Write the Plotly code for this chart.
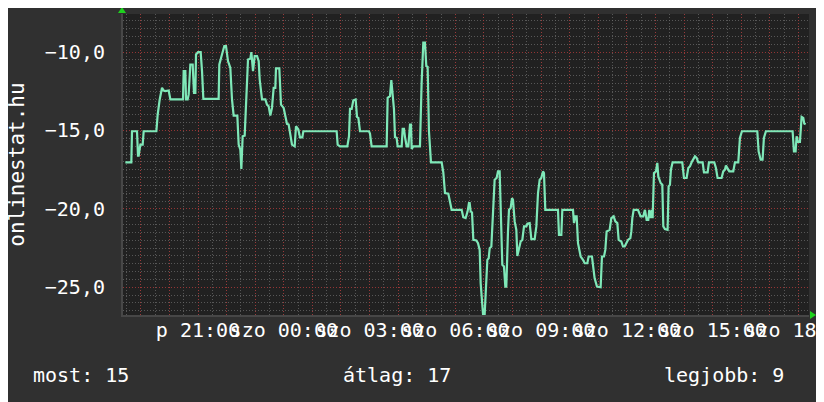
import pandas as pd
import plotly.graph_objects as go

# kezdőpont: péntek 18:00, az idők ettől számított percek
kezdet = pd.Timestamp('2024-01-05 18:00')

# a görbe pontjai (perc, helyezés) szakaszonként
ido_1 = [27.5, 40.1, 41.5, 52.0, 54.1, 55.5, 59.0, 63.9, 66.0, 92.6,
         95.4, 99.6, 104.5, 108.0, 111.5, 118.5, 122.0, 148.5, 149.9, 153.4,
         154.8, 158.3, 160.4, 163.9, 168.8, 171.6, 174.4, 175.8, 180.0, 185.6,
         188.4, 191.2, 223.3, 224.7, 230.3, 235.2, 238.7, 242.9, 247.8, 251.3,
         254.8, 262.5, 265.3, 268.8, 270.9, 273.7, 277.9, 280.7, 284.9, 289.8,
         291.9, 295.4, 298.9, 303.8, 307.3, 309.4, 314.3, 321.3, 324.7, 328.2,
         331.7, 335.2, 338.7, 342.2, 343.6, 350.6, 354.1, 359.7, 363.2, 366.7,
         370.2, 373.7, 377.2, 382.8]
ertek_1 = [-17.03, -17.03, -15.05, -15.05, -16.6, -16.6, -15.9, -15.9, -15.05, -15.05,
           -13.98, -13.02, -12.28, -12.45, -12.49, -12.45, -13.02, -13.02, -11.21, -11.21,
           -13.02, -13.02, -12.70, -10.79, -10.79, -12.60, -12.60, -10.15, -10.0, -10.0,
           -11.21, -12.98, -12.98, -10.79, -10.15, -9.61, -9.61, -10.57, -11.0, -13.02,
           -14.05, -14.05, -15.9, -16.22, -17.46, -15.37, -15.33, -13.35, -10.47, -10.42,
           -10.0, -11.21, -10.25, -10.25, -10.57, -11.75, -13.02, -13.02, -13.35, -13.45,
           -14.05, -13.56, -12.28, -12.28, -11.04, -11.04, -13.35, -13.56, -14.05, -14.58,
           -14.62, -15.33, -15.9, -16.01]

ido_2 = [385.6, 390.5, 394.0, 398.9, 401.0, 470.9, 473.0, 477.9, 493.3, 496.8,
         498.9, 502.4, 505.9, 510.8, 513.6, 516.4, 519.9, 538.7, 540.8, 544.3,
         575.8, 577.9, 582.8, 585.6, 588.4, 591.2, 593.3, 596.8, 598.9, 607.3,
         609.4, 612.2, 614.3, 617.8, 621.3, 624.8, 626.9, 628.3, 631.8, 645.7,
         649.2, 652.7, 656.2, 659.0, 661.8, 664.6, 668.8, 691.2, 694.7, 698.2,
         705.2, 708.7, 712.2, 733.2, 736.6, 741.5, 745.7, 748.5]
ertek_2 = [-14.73, -14.94, -15.44, -15.44, -15.05, -15.05, -15.9, -16.01, -16.01, -15.37,
           -13.62, -13.62, -13.07, -13.02, -14.13, -14.20, -15.05, -15.05, -15.2, -16.01,
           -16.01, -12.92, -12.81, -11.79, -13.02, -13.66, -15.42, -15.48, -16.01, -16.01,
           -14.90, -14.90, -15.42, -16.01, -16.01, -14.62, -14.62, -16.18, -16.01, -16.01,
           -11.96, -9.40, -9.40, -10.89, -10.94, -15.05, -17.03, -17.03, -17.67, -18.99,
           -19.03, -19.63, -20.06, -20.06, -20.53, -20.59, -20.16, -19.63]

ido_3 = [750.0, 752.1, 754.9, 757.7, 764.0, 767.5, 771.0, 773.1, 775.9, 778.0,
         781.5, 785.0, 787.1, 789.9, 792.0, 795.5, 799.0, 802.4, 806.6, 809.4,
         812.9, 814.3, 816.4, 818.5, 822.0, 824.8, 826.9, 829.0, 830.4, 832.5,
         836.0, 838.8, 840.9, 844.4, 847.9, 850.0, 852.8, 857.0, 860.5, 864.0,
         868.9, 871.0, 875.9, 879.4, 886.4, 889.9, 893.4, 896.9, 900.3, 903.8,
         905.9, 908.7, 935.3, 937.4, 942.3, 944.4, 966.8, 968.9, 971.7, 974.5,
         977.3, 982.9, 987.8, 991.3, 996.9, 999.6, 1006.6, 1008.7, 1012.2, 1017.1,
         1024.8, 1027.6, 1031.8, 1034.6, 1037.4, 1043.7, 1047.2, 1052.1, 1055.6, 1059.8,
         1062.6, 1068.2, 1071.7, 1075.2, 1082.2, 1087.1, 1089.2, 1091.3, 1094.1, 1103.1,
         1108.7]
ertek_3 = [-19.63, -20.16, -20.23, -21.98, -22.02, -22.19, -22.62, -24.75, -26.02, -26.7,
           -26.7, -24.75, -23.25, -23.15, -22.51, -22.40, -19.95, -18.14, -18.03, -17.61,
           -17.61, -19.63, -21.34, -23.57, -23.68, -24.96, -24.96, -21.66, -21.44, -20.06,
           -19.95, -19.31, -19.42, -20.80, -21.34, -23.0, -22.62, -22.08, -21.98, -21.12,
           -21.12, -20.95, -20.91, -21.93, -21.93, -21.12, -18.99, -18.14, -18.03, -17.61,
           -17.71, -20.06, -20.06, -21.66, -21.66, -20.06, -20.06, -20.91, -20.48, -20.48,
           -22.19, -23.04, -23.25, -23.47, -23.47, -23.04, -23.04, -23.68, -24.43, -24.96,
           -25.0, -23.04, -23.04, -22.62, -21.44, -21.34, -20.59, -20.48, -20.80, -20.91,
           -21.98, -22.08, -22.40, -22.40, -21.98, -21.87, -21.44, -20.59, -20.06, -20.06,
           -20.48]

ido_4 = [1114.3, 1117.8, 1121.3, 1124.8, 1126.9, 1129.7, 1132.5, 1133.9, 1136.7, 1140.9,
         1143.7, 1145.8, 1150.7, 1154.2, 1156.3, 1159.7, 1165.3, 1167.4, 1170.2, 1172.3,
         1175.8, 1196.1, 1199.6, 1205.2, 1208.7, 1212.2, 1215.7, 1219.2, 1222.7, 1226.2,
         1229.7, 1238.8, 1241.6, 1249.3, 1252.1, 1263.2, 1266.7, 1270.2, 1278.6, 1282.1,
         1285.6, 1287.7, 1291.2, 1294.7, 1303.1, 1306.6, 1313.6, 1317.1, 1321.3, 1353.5,
         1356.3, 1360.5, 1364.6, 1367.4, 1371.6, 1427.6, 1430.4, 1433.9, 1436.0, 1438.8,
         1443.0, 1446.5, 1450.0, 1452.1, 1454.9]
ertek_4 = [-20.48, -20.06, -20.70, -20.70, -20.06, -20.59, -20.06, -20.59, -17.71, -17.61,
           -17.07, -17.93, -18.35, -18.46, -21.12, -21.29, -21.34, -18.57, -18.46, -17.50,
           -17.03, -17.03, -18.03, -18.03, -17.39, -17.29, -17.03, -16.86, -16.65, -16.75,
           -17.03, -17.03, -17.67, -17.67, -17.03, -17.03, -17.39, -18.03, -18.03, -17.61,
           -17.50, -17.24, -17.39, -17.61, -17.61, -17.03, -17.03, -15.48, -15.05, -15.05,
           -16.33, -16.86, -16.86, -15.48, -15.05, -15.05, -16.33, -16.33, -15.37, -15.73,
           -15.73, -14.13, -14.20, -14.56, -14.60]

# összesítő a grafikon alatt
osszesito_cimkek = ['most', 'átlag', 'legjobb']
osszesito_ertekek = [15, 17, 9]

# napok rövidítése (péntek, szombat)
nap_rov = {4: 'p', 5: 'szo'}

ido_perc = ido_1 + ido_2 + ido_3 + ido_4
ertek = ertek_1 + ertek_2 + ertek_3 + ertek_4
idopontok = kezdet + pd.to_timedelta(ido_perc, unit='min')

# x tengely: óránkénti rács, 3 óránként felirat
orak = pd.date_range(kezdet + pd.Timedelta(hours=1), periods=24, freq='h')
ora_feliratok = [f"{nap_rov[t.dayofweek]} {t:%H:%M}" if t.hour % 3 == 0 else ''
                 for t in orak]

BETU = 'DejaVu Sans Mono'
HATTER = '#303030'
PIROS_RACS = 'rgba(160,55,55,0.9)'
SZURKE_RACS = 'rgba(105,105,105,0.75)'

fig = go.Figure(go.Scatter(
    x=idopontok,
    y=ertek,
    mode='lines',
    line=dict(color='#7fe8b8', width=2.2),
    hoverinfo='skip'
))

# a böngésző 8 px-es margója miatt minden 8 px-szel balra/fel van tolva
fig.update_layout(
    width=824,
    height=402,
    margin=dict(l=115, r=23, t=6, b=95),
    paper_bgcolor=HATTER,
    plot_bgcolor='#212121',
    separators=', ',
    showlegend=False,
    font=dict(family=BETU, size=20, color='white'),
    xaxis=dict(
        range=[kezdet + pd.Timedelta(minutes=22.6), kezdet + pd.Timedelta(minutes=1462)],
        tickmode='array',
        tickvals=orak,
        ticktext=ora_feliratok,
        tickangle=0,
        automargin=False,
        ticklabeloverflow='allow',
        ticklabelstandoff=-4,
        ticks='',
        showgrid=True,
        gridcolor=PIROS_RACS,
        griddash='1px,2px',
        gridwidth=1,
        minor=dict(tickmode='linear', tick0=kezdet + pd.Timedelta(minutes=30),
                   dtick=30 * 60 * 1000, showgrid=True, gridcolor=SZURKE_RACS,
                   griddash='1px,2px', gridwidth=1),
        showline=True,
        linecolor='#474747',
        linewidth=2,
        zeroline=False,
        tickfont=dict(family=BETU, size=20, color='white'),
    ),
    yaxis=dict(
        range=[-26.77, -7.57],
        tickmode='linear',
        tick0=-25,
        dtick=5,
        tickformat='.1f',
        automargin=False,
        ticks='',
        ticklabelstandoff=12,
        showgrid=True,
        gridcolor=PIROS_RACS,
        griddash='1px,2px',
        gridwidth=1,
        minor=dict(tickmode='linear', tick0=-25, dtick=0.5, showgrid=True,
                   gridcolor=SZURKE_RACS, griddash='1px,2px', gridwidth=1),
        showline=True,
        linecolor='#474747',
        linewidth=2,
        zeroline=False,
        tickfont=dict(family=BETU, size=20, color='white'),
    ),
)

# függőleges tengelycím
fig.add_annotation(
    text='onlinestat.hu', textangle=-90,
    xref='paper', yref='paper', x=-0.1556, y=0.5,
    xanchor='center', yanchor='middle', showarrow=False, borderpad=0,
    font=dict(family=BETU, size=21, color='white')
)

# összesítő sor
helyek = [-0.134, 0.318, 0.786]
for cimke, szam, hely in zip(osszesito_cimkek, osszesito_ertekek, helyek):
    fig.add_annotation(
        text=f"{cimke}: {szam}",
        xref='paper', yref='paper', x=hely, y=-0.199,
        xanchor='left', yanchor='middle', showarrow=False,
        font=dict(family=BETU, size=20, color='white')
    )

# tengelyvégi zöld nyilak
fig.add_shape(type='path', xref='paper', yref='paper',
              path='M -0.0073 1.0033 L 0.0044 1.0033 L -0.0015 1.0233 Z',
              fillcolor='#1ed31e', line=dict(width=0))
fig.add_shape(type='path', xref='paper', yref='paper',
              path='M 1.0015 -0.0133 L 1.0015 0.0133 L 1.0102 0 Z',
              fillcolor='#1ed31e', line=dict(width=0))

fig.write_html("out.html")
